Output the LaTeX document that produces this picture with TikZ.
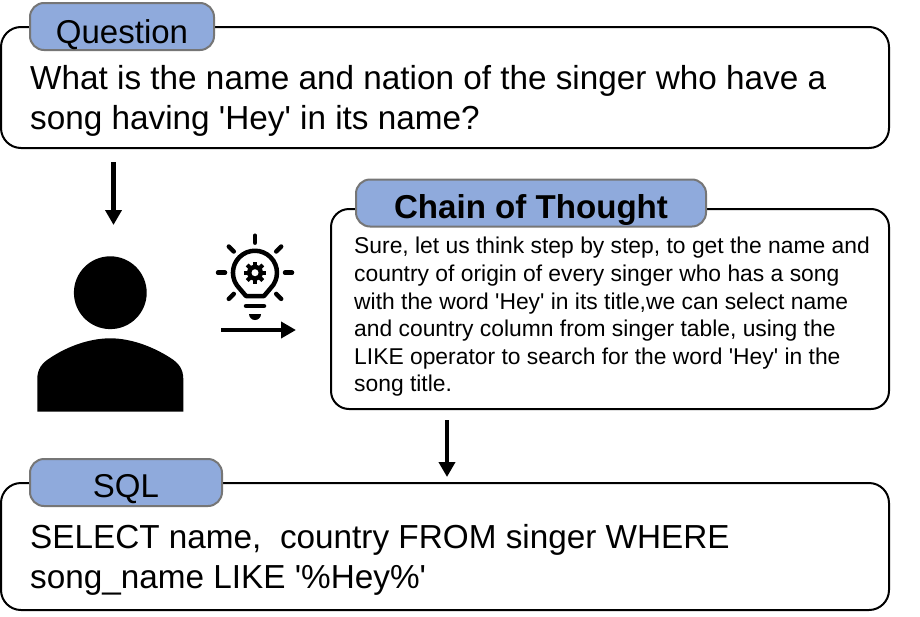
\documentclass[tikz,border=0pt]{standalone}
\usepackage{xcolor}
\usepackage{fontspec}
\setmainfont{Liberation Sans}
\usetikzlibrary{arrows.meta}
\definecolor{tagblue}{HTML}{8FAADC}
\definecolor{taggray}{HTML}{767676}
\newcommand{\sq}{\textquotesingle}

\begin{document}
\begin{tikzpicture}[x=1pt,y=-1pt,box/.style={draw=black,line width=2pt,rounded corners=20pt,fill=white,inner sep=0pt},tag/.style={draw=taggray,line width=2pt,rounded corners=14pt,fill=tagblue,inner sep=0pt,minimum height=47pt,text depth=0pt,font=\fontsize{33}{33}\selectfont},big/.style={anchor=west,align=left,inner sep=0pt,font=\fontsize{33.3}{40}\selectfont},flow/.style={line width=4.6pt,-{Triangle[length=15pt,width=16pt]}},icon/.style={line width=4.5pt,line cap=round}]
\useasboundingbox (0,0) rectangle (920,616);
\node[box,minimum width=888pt,minimum height=121pt] (question) at (445,87.5) {};
\node[box,minimum width=558pt,minimum height=200pt,rounded corners=18pt] (chain) at (610,309) {};
\node[box,minimum width=888pt,minimum height=127pt] (sql) at (445,546.5) {};
\node[tag,minimum width=184pt,text height=33pt] (questiontag) at (122,26.5) {Question};
\node[tag,minimum width=350pt,text height=30pt,font=\fontsize{33.1}{33}\selectfont\bfseries] (chaintag) at (531,203) {Chain of Thought};
\node[tag,minimum width=192pt,text height=29pt] (sqltag) at (126,482.5) {SQL};
\node[big] (questiontext) at (30,101) {What is the name and nation of the singer who have a\\song having \sq Hey\sq{} in its name?};
\node[anchor=west,align=left,inner sep=0pt,font=\fontsize{22.85}{27.6}\selectfont] (chaintext) at (354,317) {Sure, let us think step by step, to get the name and\\country of origin of every singer who has a song\\with the word \sq Hey\sq{} in its title,we can select name\\and country column from singer table, using the\\LIKE operator to search for the word \sq Hey\sq{} in the\\song title.};
\node[big] (sqltext) at (30,560) {SELECT name,\ \ country FROM singer WHERE\\song\_name LIKE \sq\%Hey\%\sq};
% person
\fill (110.3,292.7) circle (36.4);
\fill (37.3,411.7) -- (37.3,379) .. controls (37.3,369) and (42,363) .. (50,358) .. controls (68,346) and (90,338.3) .. (110.3,338.3) .. controls (130,338.3) and (152,346) .. (170.6,358) .. controls (178.6,363) and (183.3,369) .. (183.3,379) -- (183.3,411.7) -- cycle;
% bulb
\draw[icon,line cap=butt,line join=round] (246,296) -- (239.4,288.3) arc (135:405:22) -- (264,296) -- cycle;
\foreach \ang in {0,45,135,180,225,270,315}
  \draw[icon] (255,272.7) ++(\ang:30) -- ++(\ang:7);
\draw[icon] (246,306) -- (264,306);
\fill (249,314) arc (180:0:6) -- cycle;
% gear
\fill (255,272.7) circle (8);
\foreach \ang in {0,45,...,315}
  \draw[line width=4pt] (255,272.7) -- ++(\ang:11);
\fill[white] (255,272.7) circle (3.5);
% arrows
\coordinate (questionfoot) at (113.5,162);
\coordinate (personhead) at (113.5,225);
\coordinate (thinkstart) at (221,330);
\coordinate (thinkend) at (296,330);
\coordinate (chainfoot) at (447,420);
\coordinate (sqlhead) at (447,477);
\draw[flow] (questionfoot) -- (personhead);
\draw[flow] (thinkstart) -- (thinkend);
\draw[flow] (chainfoot) -- (sqlhead);
\end{tikzpicture}
\end{document}
